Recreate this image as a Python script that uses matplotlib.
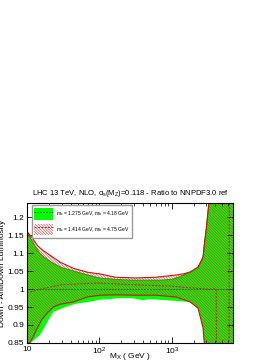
import numpy as np
import matplotlib
matplotlib.use('Agg')
import matplotlib.pyplot as plt
from matplotlib.patches import Patch
from matplotlib.lines import Line2D

plt.rcParams['font.family'] = ['Liberation Sans', 'DejaVu Sans']
plt.rcParams['mathtext.fontset'] = 'custom'
plt.rcParams['mathtext.rm'] = 'Liberation Sans'
plt.rcParams['mathtext.it'] = 'Liberation Sans'
plt.rcParams['hatch.linewidth'] = 0.4

# ---------------- data ----------------
# set 1 : mc = 1.275, mb = 4.18 (green)
mx_g = [10, 12, 15, 17, 19, 23, 30, 40, 50, 70, 100, 150, 200, 300, 400, 500,
        700, 1000, 1300, 1800, 2300, 2500, 2700, 2800, 3000, 3250, 3500, 7000]
up_g = [1.16, 1.13, 1.10, 1.09, 1.083, 1.072, 1.06, 1.053, 1.047, 1.039, 1.031, 1.028, 1.026,
        1.025, 1.025, 1.025, 1.025, 1.027, 1.035, 1.047, 1.061, 1.075, 1.089, 1.12, 1.17, 1.24,
        1.6, 1.7]
lo_g = [0.84, 0.855, 0.872, 0.89, 0.908, 0.936, 0.946, 0.955, 0.96, 0.964, 0.970, 0.973, 0.975,
        0.974, 0.969, 0.972, 0.970, 0.968, 0.966, 0.964, 0.947, 0.919, 0.892, 0.853, 0.75, 0.6,
        0.4, 0.3]
mx_gc = [10, 7000]
cen_g = [1.0, 1.0]

# set 2 : mc = 1.414, mb = 4.75 (red hatched)
mx_r = [10, 12, 13.8, 16, 18.9, 23, 28.7, 43.5, 68, 103, 167, 316, 600, 1140, 1500, 1800,
        2300, 2500, 2700, 2800, 3000, 3250, 3500, 7000]
up_r = [1.16, 1.14, 1.122, 1.11, 1.10, 1.088, 1.075, 1.058, 1.047, 1.042, 1.033, 1.031, 1.033,
        1.039, 1.043, 1.048, 1.061, 1.075, 1.089, 1.12, 1.17, 1.24, 1.6, 1.7]
lo_r = [0.84, 0.865, 0.891, 0.915, 0.933, 0.95, 0.958, 0.964, 0.978, 0.983, 0.984, 0.983, 0.983,
        0.978, 0.97, 0.964, 0.947, 0.919, 0.892, 0.853, 0.75, 0.6, 0.4, 0.3]
mx_rc = [10, 14, 20, 30, 100, 300, 1000, 3000, 4100, 4300, 6100, 6300, 7000]
cen_r = [0.989, 0.998, 1.005, 1.012, 1.017, 1.012, 1.008, 1.0, 1.0, 0.3, 0.3, 1.8, 1.8]

labels = [r'm$_c$ = 1.275 GeV, m$_b$ = 4.18 GeV',
          r'm$_c$ = 1.414 GeV, m$_b$ = 4.75 GeV']

HATCH = '\\' * 12

# ---------------- plot ----------------
fig = plt.figure(figsize=(2.79, 3.61), dpi=100)
ax = fig.add_axes([0.097, 0.05, 0.738, 0.388])

ax.fill_between(mx_g, lo_g, up_g, facecolor='#00ff00', edgecolor='none', zorder=1)
ax.plot(mx_g, up_g, color='#00a000', lw=0.6, zorder=2)
ax.plot(mx_gc, cen_g, color='#206020', lw=0.6, ls=(0, (2, 1.5)), zorder=4)

ax.fill_between(mx_r, lo_r, up_r, facecolor='none', edgecolor='#e03030', hatch=HATCH,
                lw=0, zorder=3)
ax.plot(mx_r, up_r, color='#d01010', lw=0.8, zorder=4)
ax.plot(mx_r, lo_r, color='#d01010', lw=0.8, zorder=4)
ax.plot(mx_rc, cen_r, color='#c02020', lw=0.7, ls=(0, (2, 1.5)), zorder=4)

ax.set_xscale('log')
ax.set_xlim(10, 7000)
ax.set_ylim(0.85, 1.24)
ax.set_yticks([0.85, 0.9, 0.95, 1.0, 1.05, 1.1, 1.15, 1.2])
ax.set_yticklabels(['0.85', '0.9', '0.95', '1', '1.05', '1.1', '1.15', '1.2'])
ax.set_xticks([10, 100, 1000])
ax.set_xticklabels(['10', r'10$^2$', r'10$^3$'])
ax.tick_params(which='both', direction='in', top=True, right=True, labelsize=6, pad=2)
ax.tick_params(which='major', length=4, width=0.6)
ax.tick_params(which='minor', length=2, width=0.5)
ax.tick_params(axis='y', which='minor', left=False, right=False)
for s in ax.spines.values():
    s.set_linewidth(0.8)
    s.set_zorder(6)

ax.set_xlabel(r'M$_X$ ( GeV )', fontsize=6)
ax.xaxis.set_label_coords(0.5, -0.06)
ax.set_ylabel('Down - AntiDown Luminosity', fontsize=6, labelpad=1)
ax.set_title(r'LHC 13 TeV, NLO, $\alpha_s$(M$_Z$)=0.118 - Ratio to NNPDF3.0 ref', fontsize=5.5, pad=6)

h1 = (Patch(facecolor='#00ff00', edgecolor='none'),
      Line2D([], [], color='#206020', lw=0.6, ls=(0, (2, 1.5))))
h2 = (Patch(facecolor='white', edgecolor='#e03030', hatch=HATCH, lw=0),
      Line2D([], [], color='#c02020', lw=0.7, ls=(0, (2, 1.5))))
leg = ax.legend([h1, h2], labels, loc='upper left', bbox_to_anchor=(0.01, 1.0), fontsize=3.6,
                handlelength=3.8, handleheight=3.2, labelspacing=0.8, handletextpad=0.6,
                borderpad=0.5, fancybox=False, framealpha=1, edgecolor='#999999')
leg.get_frame().set_linewidth(1.0)
leg.set_zorder(10)

fig.savefig('out.png', dpi=100)
